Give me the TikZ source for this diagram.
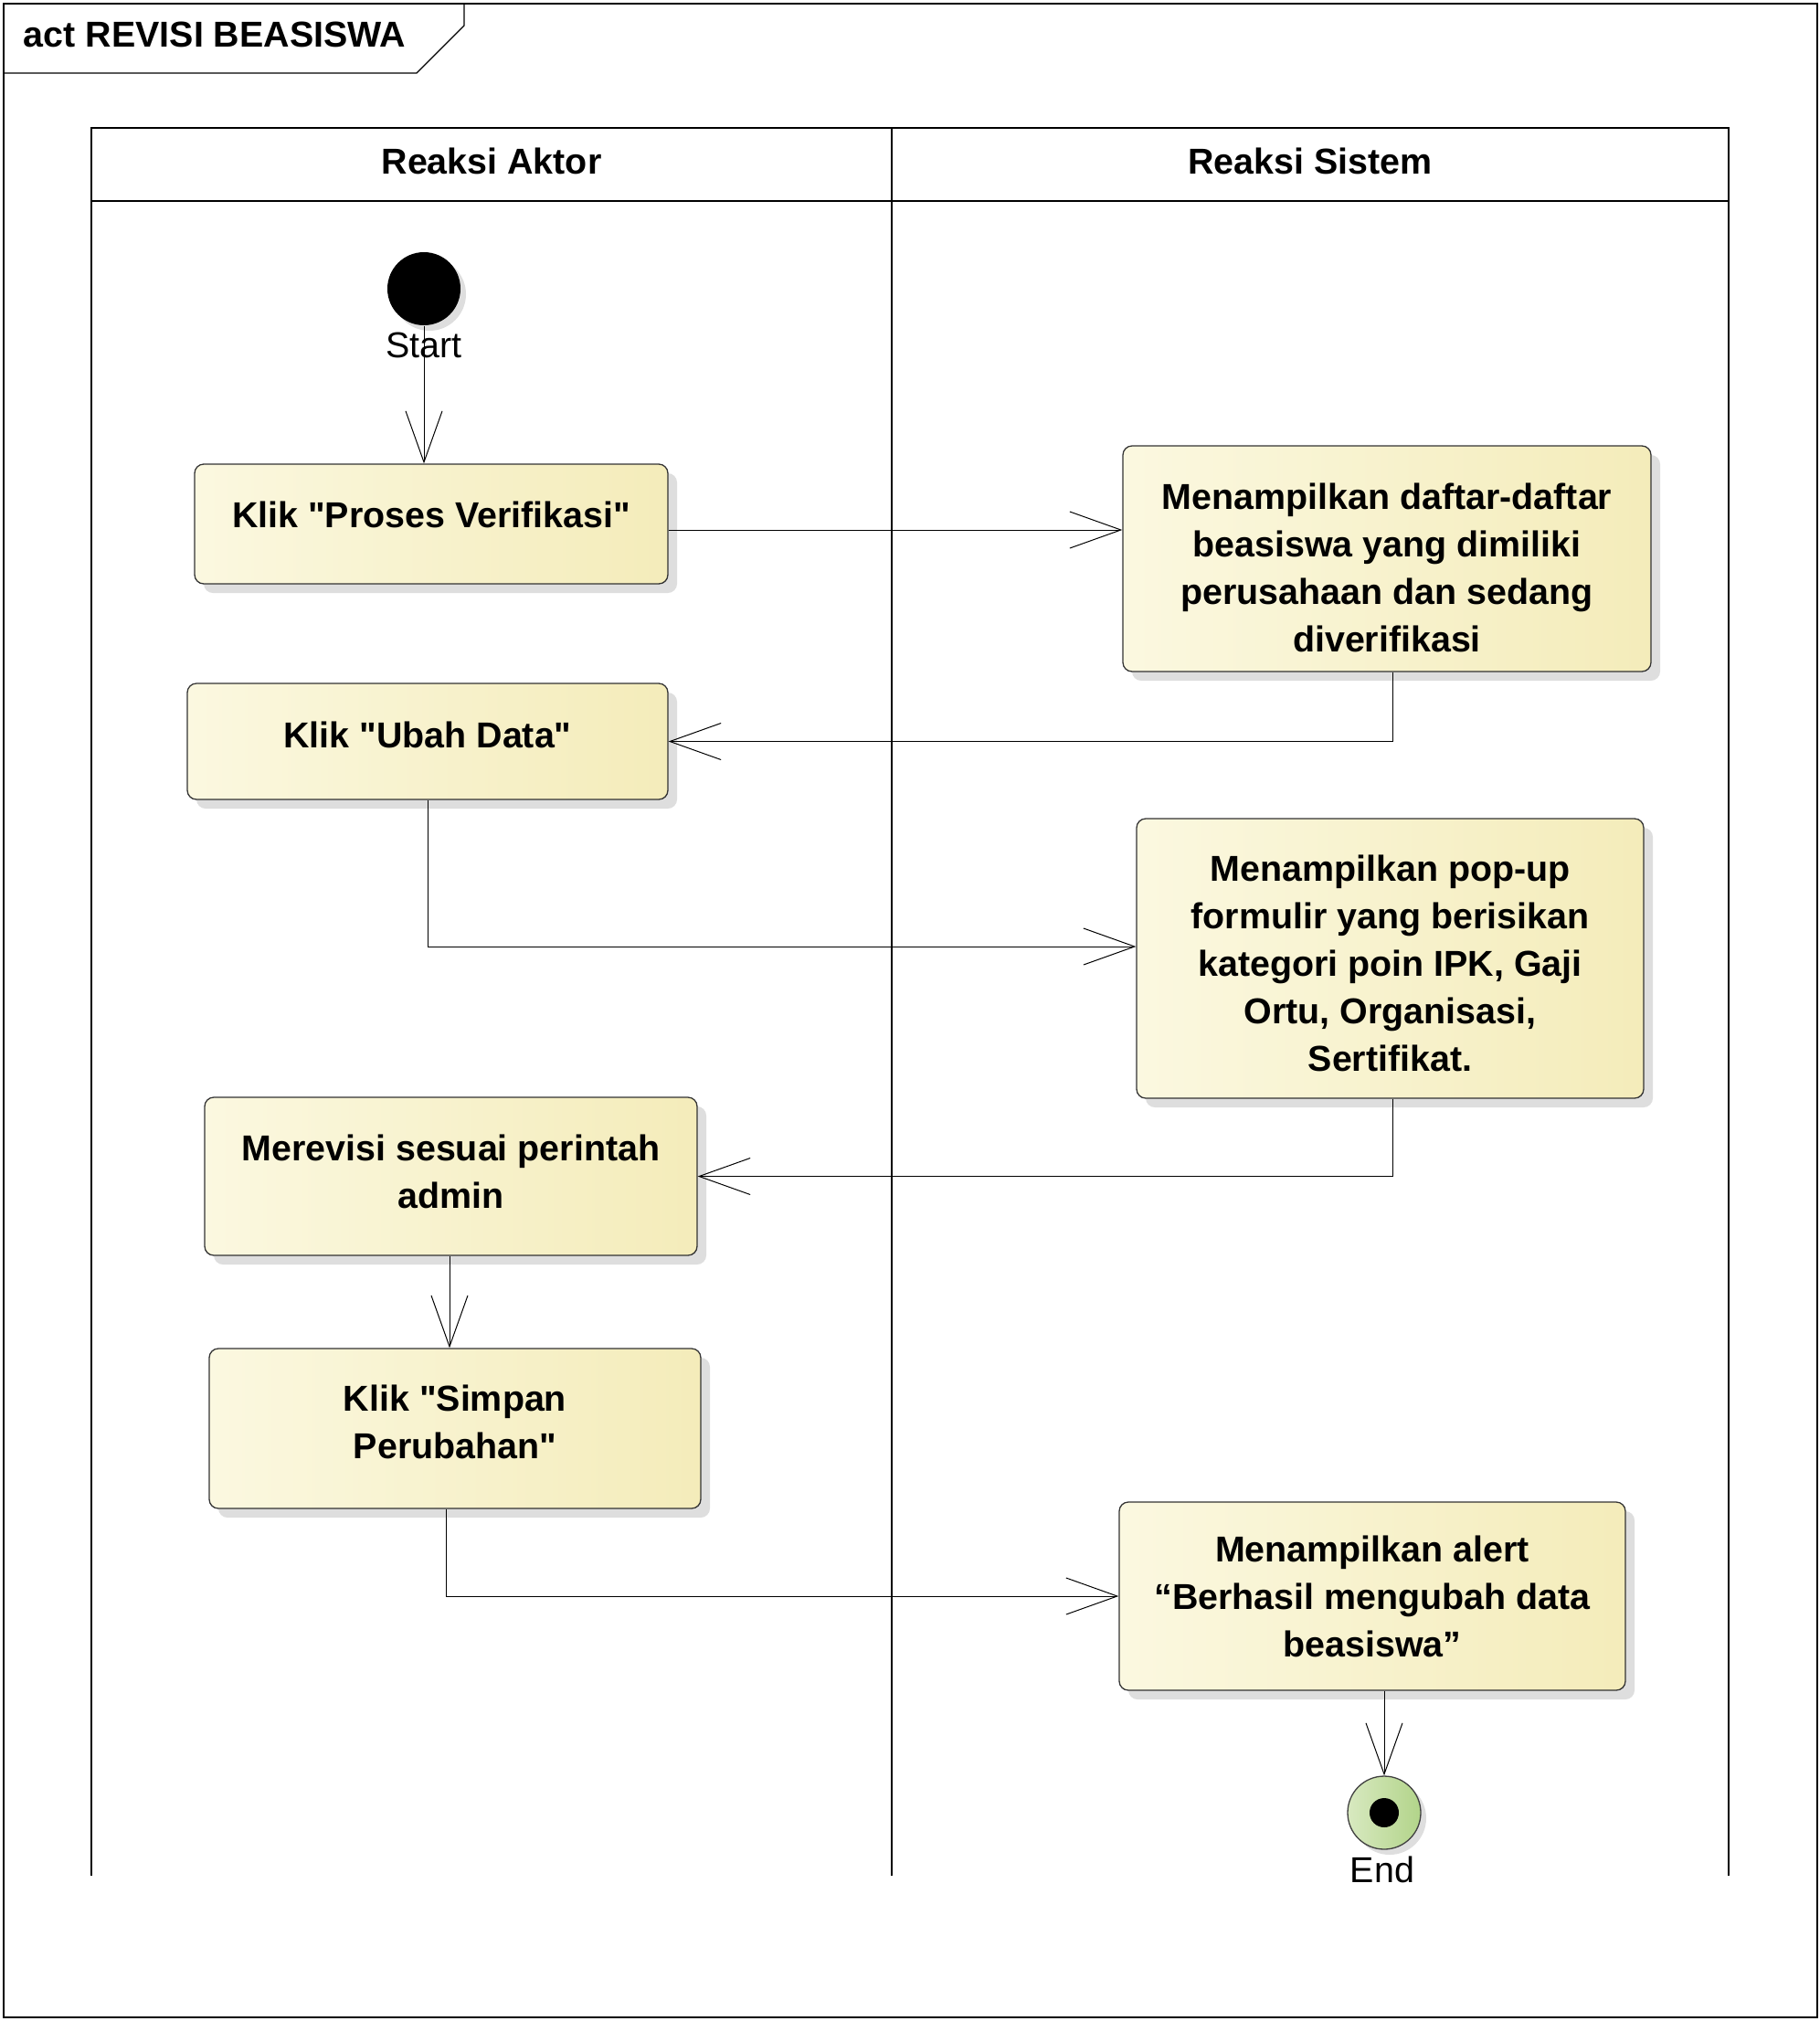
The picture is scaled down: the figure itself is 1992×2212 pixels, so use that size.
\documentclass[tikz,border=0pt]{standalone}
\usepackage{fontspec}
\setmainfont{Liberation Sans}[Ligatures=TeXOff]
\usetikzlibrary{arrows.meta,shadows}
\definecolor{actleft}{RGB}{251,248,224}
\definecolor{actright}{RGB}{244,236,186}
\definecolor{endleft}{RGB}{216,233,192}
\definecolor{endright}{RGB}{178,212,138}
\definecolor{shadowgray}{RGB}{222,222,222}
\tikzset{
  umlfont/.style={font=\fontsize{39.4}{52}\selectfont},
  act/.style={font=\bfseries\fontsize{39.4}{52}\selectfont, draw=black!80,
    line width=1.3pt, rounded corners=10pt, left color=actleft, right color=actright,
    align=center, inner sep=0pt,
    drop shadow={shadow xshift=10pt, shadow yshift=-10pt, fill=shadowgray, opacity=1}},
  lift/.style={text depth=#1},
  sink/.style={text height=#1},
  lanehead/.style={font=\bfseries\fontsize{39.4}{52}\selectfont},
  initial/.style={circle, fill=black, minimum size=80pt, inner sep=0pt,
    drop shadow={shadow xshift=6pt, shadow yshift=-6pt, fill=shadowgray, opacity=1}},
  final/.style={circle, draw=black!75, line width=1.3pt, left color=endleft, right color=endright,
    minimum size=80pt, inner sep=0pt,
    drop shadow={shadow xshift=6pt, shadow yshift=-6pt, fill=shadowgray, opacity=1}},
  flow/.style={line width=1pt, -{Straight Barb[length=56pt,width=40pt,line width=1pt]}}
}
\begin{document}
\begin{tikzpicture}[x=1pt, y=-1pt, line width=1.3pt]
      \useasboundingbox (0,0) rectangle (1992,2212);
      % frame
      \draw (4,4) rectangle (1989,2208);
      \draw (4,80) -- (456,80) -- (508,28) -- (508,4);
      \node [lanehead, anchor=west] (title) at (22,38) {act REVISI BEASISWA};
      % swimlanes
      \draw (100,2053) -- (100,140) -- (1892,140) -- (1892,2053);
      \draw (976,140) -- (976,2053);
      \draw (100,220) -- (1892,220);
      \node [lanehead] (aktor) at (538,176) {Reaksi Aktor};
      \node [lanehead] (sistem) at (1434,176) {Reaksi Sistem};
      % nodes
      \node [initial] (start) at (464,316) {};
      \node [umlfont] (startlbl) at (464,378) {Start};
      \node [act, lift=20pt, minimum width=518pt, minimum height=131pt] (proses) at (472,573.5)
        {Klik "Proses Verifikasi"};
      \node [act, sink=205pt, minimum width=578pt, minimum height=247pt] (daftar) at (1518,611.5)
        {Menampilkan daftar-daftar\\beasiswa yang dimiliki\\perusahaan dan sedang\\diverifikasi};
      \node [act, lift=15pt, minimum width=526pt, minimum height=127pt] (ubah) at (468,811.5)
        {Klik "Ubah Data"};
      \node [act, sink=248pt, minimum width=555pt, minimum height=306pt] (popup) at (1521.5,1049)
        {Menampilkan pop-up\\formulir yang berisikan\\kategori poin IPK, Gaji\\Ortu, Organisasi,\\Sertifikat.};
      \node [act, lift=11pt, minimum width=539pt, minimum height=173pt] (revisi) at (493.5,1287.5)
        {Merevisi sesuai perintah\\admin};
      \node [act, lift=14pt, minimum width=538pt, minimum height=175pt] (simpan) at (498,1563.5)
        {Klik "Simpan\\Perubahan"};
      \node [act, minimum width=554pt, minimum height=206pt] (alert) at (1502,1747)
        {Menampilkan alert\\“Berhasil mengubah data\\beasiswa”};
      \node [final] (end) at (1515,1984) {};
      \node [circle, fill=black, minimum size=32pt, inner sep=0pt] (enddot) at (end) {};
      \node [umlfont] (endlbl) at (1513,2046) {End};
      % flows
      \coordinate (p1) at ([yshift=-6.5pt]proses.east);
      \draw [flow] (start) -- (start |- proses.north);
      \draw [flow] (p1) -- (p1 -| daftar.west);
      \draw [flow] ([xshift=6pt]daftar.south) |- (ubah.east);
      \draw [flow] (ubah.south) |- ([yshift=13pt]popup.west);
      \draw [flow] ([xshift=2.5pt]popup.south) |- (revisi.east);
      \draw [flow] ([xshift=-1.5pt]revisi.south) -- ([xshift=-1.5pt]revisi.south |- simpan.north);
      \draw [flow] ([xshift=-10pt]simpan.south) |- (alert.west);
      \draw [flow] (end |- alert.south) -- (end);
    \end{tikzpicture}
\end{document}
